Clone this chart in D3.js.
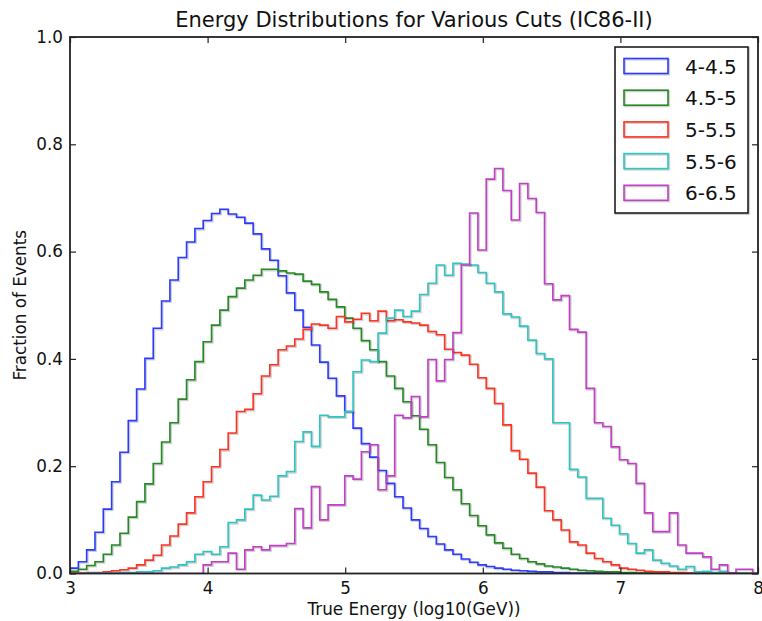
<!DOCTYPE html>
<html>
<head>
<meta charset="utf-8">
<script src="https://d3js.org/d3.v7.min.js"></script>
<style>
body { margin: 0; background: #fff; }
text { font-family: "DejaVu Sans", sans-serif; }
</style>
</head>
<body>
<script>
window.document.addEventListener('DOMContentLoaded', init, false);

var width = 762;
var height = 621;
var margin = {top: 37, right: 4, bottom: 47.5, left: 70};

// histogram bins: 83 bins of 0.0605 starting at 3
var binStart = 3;
var binWidth = 0.0605;
var binCount = 83;

var seriesNames = ['4-4.5', '4.5-5', '5-5.5', '5.5-6', '6-6.5'];
var seriesColors = ['#2b3bff', '#238a23', '#ff3322', '#2ec4c4', '#c23ec6'];

var cut_4_45 = [0.010, 0.022, 0.044, 0.077, 0.120, 0.171, 0.226, 0.285, 0.344, 0.401,
    0.457, 0.508, 0.547, 0.589, 0.618, 0.643, 0.658, 0.671, 0.679, 0.670,
    0.664, 0.653, 0.633, 0.605, 0.584, 0.555, 0.523, 0.491, 0.459, 0.426,
    0.394, 0.364, 0.331, 0.302, 0.271, 0.242, 0.217, 0.192, 0.168, 0.143,
    0.122, 0.100, 0.084, 0.069, 0.055, 0.044, 0.036, 0.027, 0.021, 0.016,
    0.013, 0.010, 0.008, 0.006, 0.005, 0.004, 0.003, 0.003, 0.002, 0.002,
    0.001, 0.001, 0.001, 0.001, 0.001, 0, 0, 0, 0, 0,
    0, 0, 0, 0, 0, 0, 0, 0, 0, 0,
    0, 0, 0];

var cut_45_5 = [0.004, 0.008, 0.015, 0.022, 0.036, 0.053, 0.075, 0.105, 0.134, 0.167,
    0.205, 0.245, 0.281, 0.325, 0.361, 0.395, 0.432, 0.463, 0.491, 0.516,
    0.532, 0.547, 0.556, 0.567, 0.567, 0.564, 0.560, 0.558, 0.545, 0.539,
    0.525, 0.511, 0.497, 0.476, 0.457, 0.434, 0.417, 0.395, 0.368, 0.345,
    0.320, 0.294, 0.269, 0.240, 0.207, 0.179, 0.156, 0.130, 0.108, 0.089,
    0.072, 0.057, 0.047, 0.036, 0.028, 0.022, 0.018, 0.014, 0.012, 0.010,
    0.008, 0.006, 0.005, 0.004, 0.003, 0.003, 0.002, 0.002, 0.001, 0.001,
    0.001, 0, 0, 0, 0, 0, 0, 0, 0, 0,
    0, 0, 0];

var cut_5_55 = [0.001, 0.001, 0.002, 0.002, 0.003, 0.005, 0.007, 0.010, 0.016, 0.025,
    0.034, 0.053, 0.070, 0.092, 0.113, 0.143, 0.171, 0.199, 0.231, 0.262,
    0.302, 0.306, 0.335, 0.368, 0.389, 0.417, 0.424, 0.437, 0.455, 0.465,
    0.463, 0.457, 0.479, 0.469, 0.474, 0.485, 0.471, 0.489, 0.471, 0.473,
    0.469, 0.467, 0.463, 0.451, 0.445, 0.418, 0.412, 0.407, 0.390, 0.365,
    0.345, 0.317, 0.277, 0.229, 0.213, 0.187, 0.161, 0.117, 0.100, 0.081,
    0.059, 0.053, 0.038, 0.028, 0.022, 0.016, 0.010, 0.008, 0.006, 0.004,
    0.003, 0.003, 0.002, 0.002, 0.001, 0.001, 0, 0, 0, 0,
    0, 0, 0];

var cut_55_6 = [0, 0, 0.001, 0.001, 0.001, 0.001, 0.002, 0.002, 0.003, 0.003,
    0.005, 0.010, 0.012, 0.016, 0.022, 0.036, 0.041, 0.036, 0.050, 0.095,
    0.100, 0.120, 0.146, 0.137, 0.144, 0.182, 0.190, 0.246, 0.264, 0.237,
    0.295, 0.292, 0.292, 0.302, 0.376, 0.398, 0.395, 0.448, 0.476, 0.491,
    0.479, 0.489, 0.520, 0.541, 0.575, 0.556, 0.578, 0.577, 0.575, 0.561,
    0.541, 0.525, 0.484, 0.478, 0.461, 0.435, 0.410, 0.400, 0.281, 0.281,
    0.194, 0.180, 0.140, 0.140, 0.103, 0.090, 0.074, 0.056, 0.038, 0.044,
    0.025, 0.019, 0.014, 0.008, 0.013, 0.003, 0.004, 0.002, 0.004, 0.001,
    0.001, 0, 0];

var cut_6_65 = [0, 0, 0, 0, 0, 0, 0, 0, 0, 0,
    0, 0, 0, 0, 0, 0, 0.016, 0.022, 0.022, 0.038,
    0.008, 0.044, 0.050, 0.044, 0.052, 0.052, 0.056, 0.121, 0.085, 0.162,
    0.100, 0.128, 0.128, 0.182, 0.176, 0.227, 0.240, 0.156, 0.182, 0.295,
    0.290, 0.330, 0.292, 0.399, 0.359, 0.399, 0.449, 0.575, 0.672, 0.603,
    0.735, 0.755, 0.714, 0.659, 0.727, 0.699, 0.673, 0.540, 0.510, 0.518,
    0.455, 0.450, 0.345, 0.281, 0.274, 0.236, 0.212, 0.205, 0.168, 0.113,
    0.078, 0.078, 0.113, 0.053, 0.038, 0.038, 0.031, 0.008, 0.016, 0.0015,
    0.008, 0.008, 0];

var seriesValues = [cut_4_45, cut_45_5, cut_5_55, cut_55_6, cut_6_65];

var xTicks = [3, 4, 5, 6, 7, 8];
var yTicks = [0.0, 0.2, 0.4, 0.6, 0.8, 1.0];

var svg, x, y;

function init() {
    svg = d3.select('body').append('svg')
        .attr('width', width)
        .attr('height', height);

    x = d3.scaleLinear().domain([3, 8]).range([margin.left, width - margin.right]);
    y = d3.scaleLinear().domain([0, 1]).range([height - margin.bottom, margin.top]);

    svg.append('clipPath').attr('id', 'plot-clip')
        .append('rect')
        .attr('x', x(3)).attr('y', y(1))
        .attr('width', x(8) - x(3)).attr('height', y(0) - y(1));

    drawHistograms();
    drawAxes();
    drawLegend();
    drawLabels();
}

function stepPoints(values) {
    var edges = d3.range(binCount + 1).map(function(i) { return binStart + i * binWidth; });
    var pts = [[edges[0], 0]];
    values.forEach(function(v, i) { pts.push([edges[i], v]); });
    pts.push([edges[values.length], values[values.length - 1]]);
    pts.push([edges[values.length], 0]);
    return pts;
}

function drawHistograms() {
    var line = d3.line()
        .x(function(d) { return x(d[0]); })
        .y(function(d) { return y(d[1]); })
        .curve(d3.curveStepAfter);

    var g = svg.append('g').attr('clip-path', 'url(#plot-clip)');

    seriesValues.forEach(function(values, i) {
        var pts = stepPoints(values);
        // soft grey shadow, slightly offset
        g.append('path')
            .attr('d', line(pts))
            .attr('transform', 'translate(1,1)')
            .attr('fill', 'none')
            .attr('stroke', '#000')
            .attr('stroke-opacity', 0.18)
            .attr('stroke-width', 2.2);
        g.append('path')
            .attr('d', line(pts))
            .attr('fill', 'none')
            .attr('stroke', seriesColors[i])
            .attr('stroke-width', 1.6);
    });
}

function drawAxes() {
    var fontSize = 16.8;
    var bottom = svg.append('g')
        .attr('transform', 'translate(0,' + y(0) + ')')
        .call(d3.axisBottom(x).tickValues(xTicks).tickSizeInner(-6).tickSizeOuter(0)
            .tickPadding(9).tickFormat(d3.format('d')));
    var left = svg.append('g')
        .attr('transform', 'translate(' + x(3) + ',0)')
        .call(d3.axisLeft(y).tickValues(yTicks).tickSizeInner(-6).tickSizeOuter(0)
            .tickPadding(7).tickFormat(d3.format('.1f')));
    var top = svg.append('g')
        .attr('transform', 'translate(0,' + y(1) + ')')
        .call(d3.axisTop(x).tickValues(xTicks).tickSizeInner(-6).tickSizeOuter(0).tickFormat(''));
    var right = svg.append('g')
        .attr('transform', 'translate(' + x(8) + ',0)')
        .call(d3.axisRight(y).tickValues(yTicks).tickSizeInner(-6).tickSizeOuter(0).tickFormat(''));

    [bottom, left, top, right].forEach(function(a) {
        a.select('.domain').remove();
        a.selectAll('.tick line').attr('stroke', '#222').attr('stroke-width', 1.2);
        a.selectAll('text')
            .attr('font-size', fontSize)
            .attr('font-family', '"DejaVu Sans", sans-serif')
            .attr('fill', '#111');
    });

    svg.append('rect')
        .attr('x', x(3)).attr('y', y(1))
        .attr('width', x(8) - x(3)).attr('height', y(0) - y(1))
        .attr('fill', 'none')
        .attr('stroke', '#222')
        .attr('stroke-width', 1.8);
}

function drawLegend() {
    var lx = 615, ly = 47, lw = 133, lh = 166;
    var g = svg.append('g');
    g.append('rect')
        .attr('x', lx + 1).attr('y', ly + 1).attr('width', lw).attr('height', lh)
        .attr('fill', 'none').attr('stroke', '#000').attr('stroke-opacity', 0.18).attr('stroke-width', 2.2);
    g.append('rect')
        .attr('x', lx).attr('y', ly).attr('width', lw).attr('height', lh)
        .attr('fill', '#fff').attr('stroke', '#111').attr('stroke-width', 1.5);

    seriesNames.forEach(function(name, i) {
        var ry = 58.5 + i * 31.7;
        g.append('rect')
            .attr('x', 625).attr('y', ry + 1).attr('width', 44).attr('height', 15)
            .attr('fill', 'none').attr('stroke', '#000').attr('stroke-opacity', 0.18).attr('stroke-width', 2.2);
        g.append('rect')
            .attr('x', 624).attr('y', ry).attr('width', 44).attr('height', 15)
            .attr('fill', 'none').attr('stroke', seriesColors[i]).attr('stroke-width', 1.6);
        g.append('text')
            .attr('x', 685).attr('y', ry + 15)
            .attr('font-size', 20)
            .attr('fill', '#111')
            .text(name);
    });
}

function drawLabels() {
    svg.append('text')
        .attr('x', (x(3) + x(8)) / 2).attr('y', 27)
        .attr('text-anchor', 'middle')
        .attr('font-size', 21)
        .attr('fill', '#111')
        .text('Energy Distributions for Various Cuts (IC86-II)');

    svg.append('text')
        .attr('x', (x(3) + x(8)) / 2).attr('y', 615)
        .attr('text-anchor', 'middle')
        .attr('font-size', 16.8)
        .attr('fill', '#111')
        .text('True Energy (log10(GeV))');

    svg.append('text')
        .attr('transform', 'translate(26,' + ((y(0) + y(1)) / 2) + ') rotate(-90)')
        .attr('text-anchor', 'middle')
        .attr('font-size', 16.8)
        .attr('fill', '#111')
        .text('Fraction of Events');
}
</script>
</body>
</html>
